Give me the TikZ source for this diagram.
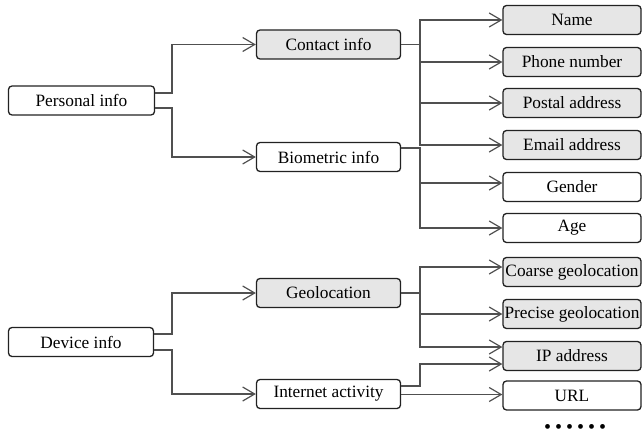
\documentclass[tikz,border=0pt]{standalone}
\usepackage{fontspec}
\setmainfont{Liberation Serif}
\usetikzlibrary{arrows.meta,calc}
\definecolor{boxgray}{HTML}{E6E6E6}
\definecolor{linegray}{HTML}{505050}
\definecolor{edgedark}{HTML}{222222}
\newcommand\leaftext[1]{\makebox[134pt][c]{#1}}
\begin{document}
\begin{tikzpicture}[x=1pt,y=-1pt,
  every node/.style={font=\fontsize{17.3pt}{20pt}\selectfont, inner sep=0pt},
  box/.style={draw=edgedark, line width=1.3pt, rounded corners=3.5pt, fill=white, minimum height=29pt},
  midbox/.style={box, minimum width=144pt},
  leaf/.style={box, minimum width=138pt},
  shaded/.style={fill=boxgray},
  arr/.style={draw=linegray, line width=1.3pt, -{Straight Barb[length=12pt,width=14pt,line width=1.2pt]}}]
\useasboundingbox (0,0) rectangle (642,436);

% roots
\node[box, minimum width=146pt] (personal) at (81.5,100.5) {Personal info};
\node[box, minimum width=145pt] (device) at (81,342) {Device info};

% middle
\node[midbox, shaded] (contact) at (328.5,44.5) {Contact info};
\node[midbox] (bio) at (328.5,157) {Biometric info};
\node[midbox, shaded] (geo) at (328.5,293) {Geolocation};
\node[midbox] (inet) at (328.5,394) {Internet activity};

% leaves
\node[leaf, shaded] (name) at (572,20) {\leaftext{Name}};
\node[leaf, shaded] (phone) at (572,62) {\leaftext{Phone number}};
\node[leaf, shaded] (postal) at (572,103) {\leaftext{Postal address}};
\node[leaf, shaded] (email) at (572,145) {\leaftext{Email address}};
\node[leaf] (gender) at (572,187) {\leaftext{Gender}};
\node[leaf] (age) at (572,228) {\leaftext{Age}};
\node[leaf, shaded] (coarse) at (572,272) {\leaftext{Coarse geolocation}};
\node[leaf, shaded] (precise) at (572,314) {\leaftext{Precise geolocation}};
\node[leaf, shaded] (ip) at (572,356) {\leaftext{IP address}};
\node[leaf] (url) at (572,395.5) {\leaftext{URL}};

\node[font=\fontsize{20pt}{22pt}\selectfont, anchor=base, text depth=0pt] (dots) at (575,433.5) {•\hspace{4pt}•\hspace{4pt}•\hspace{4pt}•\hspace{4pt}•\hspace{4pt}•};

% junction columns
\coordinate (pj) at (172,0);
\coordinate (cj) at (420,0);

% root connectors
\draw[arr] ([yshift=7.5pt]personal.east) -| (pj |- contact.west) -- (contact.west);
\draw[arr] ([yshift=-7.5pt]personal.east) -| (pj |- bio.west) -- (bio.west);
\draw[arr] ([yshift=8pt]device.east) -| (pj |- geo.west) -- (geo.west);
\draw[arr] ([yshift=-8pt]device.east) -| (pj |- inet.west) -- (inet.west);

% contact leaves
\draw[arr] (contact.east) -| (cj |- name.west) -- (name.west);
\draw[arr] (contact.east) -| (cj |- phone.west) -- (phone.west);
\draw[arr] (contact.east) -| (cj |- postal.west) -- (postal.west);
\draw[arr] (contact.east) -| (cj |- email.west) -- (email.west);

% biometric leaves
\coordinate (g1) at ([yshift=4pt]gender.west);
\draw[arr] ([yshift=9pt]bio.east) -| (cj |- g1) -- (g1);
\draw[arr] ([yshift=9pt]bio.east) -| (cj |- age.west) -- (age.west);

% geolocation leaves
\coordinate (c1) at ([yshift=5pt]coarse.west);
\coordinate (i1) at ([yshift=9pt]ip.west);
\coordinate (i2) at ([yshift=-8pt]ip.west);
\draw[arr] (geo.east) -| (cj |- c1) -- (c1);
\draw[arr] (geo.east) -| (cj |- precise.west) -- (precise.west);
\draw[arr] (geo.east) -| (cj |- i1) -- (i1);

% internet leaves
\coordinate (ie) at ([yshift=-0.5pt]inet.east);
\draw[arr] ([yshift=8pt]inet.east) -| (cj |- i2) -- (i2);
\draw[arr] (ie) -- (url.west |- ie);
\end{tikzpicture}
\end{document}
